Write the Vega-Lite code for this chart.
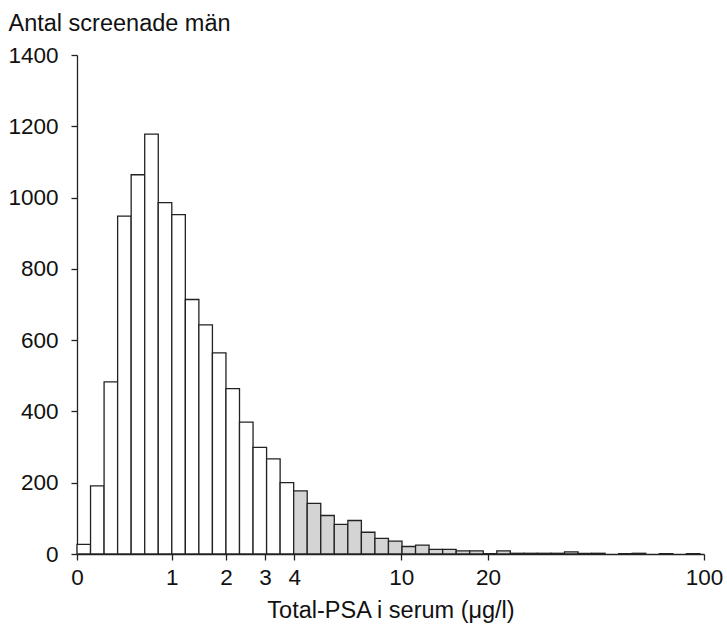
{
  "$schema": "https://vega.github.io/schema/vega-lite/v6.json",
  "autosize": "none",
  "width": 627,
  "height": 499,
  "padding": {"left": 77, "top": 55, "right": 23, "bottom": 73},
  "background": "white",
  "config": {
    "view": {"stroke": null},
    "font": "Liberation Sans",
    "axis": {
      "grid": false,
      "domainColor": "#222",
      "domainWidth": 1.3,
      "tickColor": "#222",
      "tickWidth": 1.3,
      "tickSize": 6,
      "labelColor": "#111",
      "titleColor": "#111",
      "labelFont": "Liberation Sans",
      "titleFont": "Liberation Sans",
      "labelFontSize": 22.5,
      "titleFontSize": 23.5,
      "titleFontWeight": "normal",
      "labelFlush": false,
      "labelOverlap": false
    }
  },
  "data": {
    "values": [
      {"lo": 0, "hi": 1, "n": 27, "g": "a"},
      {"lo": 1, "hi": 2, "n": 191, "g": "a"},
      {"lo": 2, "hi": 3, "n": 483, "g": "a"},
      {"lo": 3, "hi": 4, "n": 948, "g": "a"},
      {"lo": 4, "hi": 5, "n": 1064, "g": "a"},
      {"lo": 5, "hi": 6, "n": 1178, "g": "a"},
      {"lo": 6, "hi": 7, "n": 986, "g": "a"},
      {"lo": 7, "hi": 8, "n": 952, "g": "a"},
      {"lo": 8, "hi": 9, "n": 714, "g": "a"},
      {"lo": 9, "hi": 10, "n": 643, "g": "a"},
      {"lo": 10, "hi": 11, "n": 564, "g": "a"},
      {"lo": 11, "hi": 12, "n": 464, "g": "a"},
      {"lo": 12, "hi": 13, "n": 370, "g": "a"},
      {"lo": 13, "hi": 14, "n": 299, "g": "a"},
      {"lo": 14, "hi": 15, "n": 267, "g": "a"},
      {"lo": 15, "hi": 16, "n": 200, "g": "a"},
      {"lo": 16, "hi": 17, "n": 177, "g": "b"},
      {"lo": 17, "hi": 18, "n": 142, "g": "b"},
      {"lo": 18, "hi": 19, "n": 108, "g": "b"},
      {"lo": 19, "hi": 20, "n": 83, "g": "b"},
      {"lo": 20, "hi": 21, "n": 94, "g": "b"},
      {"lo": 21, "hi": 22, "n": 61, "g": "b"},
      {"lo": 22, "hi": 23, "n": 44, "g": "b"},
      {"lo": 23, "hi": 24, "n": 36, "g": "b"},
      {"lo": 24, "hi": 25, "n": 21, "g": "b"},
      {"lo": 25, "hi": 26, "n": 25, "g": "b"},
      {"lo": 26, "hi": 27, "n": 13, "g": "b"},
      {"lo": 27, "hi": 28, "n": 13, "g": "b"},
      {"lo": 28, "hi": 29, "n": 9, "g": "b"},
      {"lo": 29, "hi": 30, "n": 9, "g": "b"},
      {"lo": 30, "hi": 31, "n": 1, "g": "b"},
      {"lo": 31, "hi": 32, "n": 9, "g": "b"},
      {"lo": 32, "hi": 33, "n": 2, "g": "b"},
      {"lo": 33, "hi": 34, "n": 2, "g": "b"},
      {"lo": 34, "hi": 35, "n": 2, "g": "b"},
      {"lo": 35, "hi": 36, "n": 2, "g": "b"},
      {"lo": 36, "hi": 37, "n": 6, "g": "b"},
      {"lo": 37, "hi": 38, "n": 2, "g": "b"},
      {"lo": 38, "hi": 39, "n": 2, "g": "b"},
      {"lo": 40, "hi": 41, "n": 1, "g": "b"},
      {"lo": 41, "hi": 42, "n": 2, "g": "b"},
      {"lo": 43, "hi": 44, "n": 1, "g": "b"},
      {"lo": 45, "hi": 46, "n": 1, "g": "b"}
    ]
  },
  "mark": {"type": "bar", "stroke": "#222", "strokeWidth": 1.3},
  "encoding": {
    "x": {
      "field": "lo",
      "type": "quantitative",
      "scale": {"domain": [0, 46.3], "nice": false, "zero": false},
      "axis": {
        "title": "Total-PSA i serum (μg/l)",
        "values": [0, 7, 11, 13.88, 16.05, 23.95, 30.35, 46.3],
        "labelExpr": "datum.value == 0 ? '0' : datum.value == 7 ? '1' : datum.value == 11 ? '2' : datum.value == 13.88 ? '3' : datum.value == 16.05 ? '4' : datum.value == 23.95 ? '10' : datum.value == 30.35 ? '20' : '100'",
        "labelPadding": 6,
        "titleBaseline": "alphabetic",
        "titleY": 63
      }
    },
    "x2": {"field": "hi"},
    "y": {
      "field": "n",
      "type": "quantitative",
      "stack": null,
      "scale": {"domain": [0, 1400], "nice": false},
      "axis": {
        "title": "Antal screenade män",
        "format": "d",
        "values": [0, 200, 400, 600, 800, 1000, 1200, 1400],
        "labelPadding": 13,
        "titleAngle": 0,
        "titleAlign": "left",
        "titleBaseline": "alphabetic",
        "titleX": -69,
        "titleY": -25
      }
    },
    "y2": {"datum": 0},
    "fill": {
      "field": "g",
      "type": "nominal",
      "scale": {"domain": ["a", "b"], "range": ["white", "#d4d4d4"]},
      "legend": null
    }
  }
}
